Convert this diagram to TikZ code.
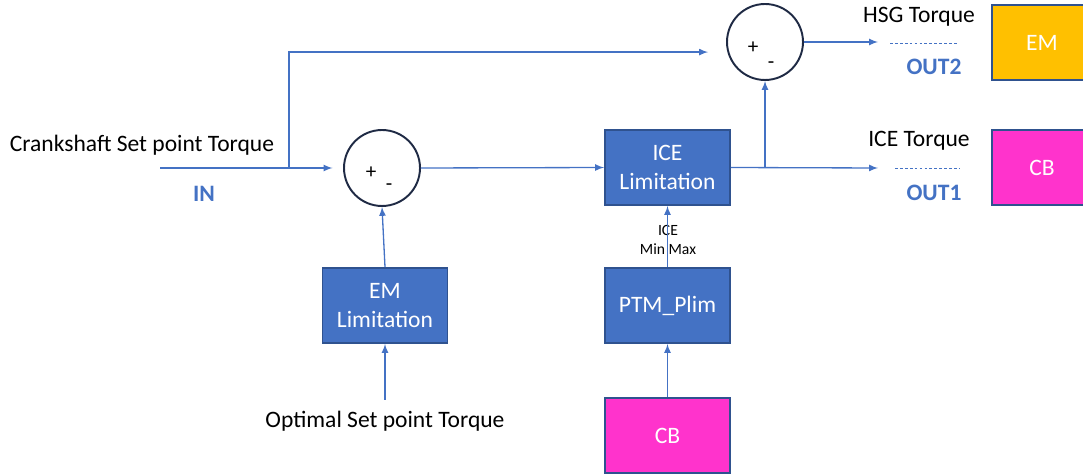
\documentclass[tikz,border=0pt]{standalone}
\usepackage{fontspec}
\setmainfont{Carlito}
\usetikzlibrary{arrows,calc,positioning}
\definecolor{lineblue}{HTML}{4472C4}
\definecolor{boxedge}{HTML}{2F528F}
\definecolor{cbpink}{HTML}{FF33CC}
\definecolor{emorange}{HTML}{FFC000}
\definecolor{ringdark}{HTML}{1F2A44}
\tikzset{
        block/.style = {draw=boxedge, fill=lineblue, rectangle,
            line width=1.1pt, text=white, align=center,
            minimum height=1.5cm,
            minimum width=2.5cm},
        sum/.style = {draw=ringdark, circle, line width=1.1pt, minimum size=1.52cm},
        arrow/.style = {draw=lineblue, -latex, line width=0.75pt},
        sign/.style = {font=\fontsize{12}{14}\selectfont},
        outlabel/.style = {text=lineblue, font=\fontsize{13.4}{16}\selectfont\bfseries},
        lbl/.style = {font=\fontsize{13.4}{16}\selectfont},
        dashline/.style = {lineblue, dash pattern=on 1.6pt off 1.2pt, line width=0.5pt},
    }

\begin{document}
\begin{tikzpicture}[x=0.02cm, y=-0.02cm, font=\fontsize{13.4}{16}\selectfont]
    \clip (0,0) rectangle (1083,476);
    \node[sum] (sum1) at (382,168) {};
    \node[sum] (sum2) at (765,42) {};
    \node[sign] (p1) at (371,173) {+};
    \node[sign] (m1) at (389,187) {-};
    \node[sign] (p2) at (753,48) {+};
    \node[sign] (m2) at (771,65) {-};

    \node[block] (ice) at (667.5,167.5) {ICE\\Limitation};
    \node[block] (emlim) at (385,305.5) {EM\\Limitation};
    \node[block] (ptm) at (667.5,305.5) {PTM\_Plim};
    \node[block, fill=cbpink] (cbin) at (667.5,435.5) {CB};
    \node[block, fill=emorange, minimum width=2cm] (em) at (1042,42.5) {EM};
    \node[block, fill=cbpink, minimum width=2cm] (cbout) at (1042,167.5) {CB};

    \node[lbl] (crank) at (142,145) {Crankshaft Set point Torque};
    \node[outlabel] (in) at (204,194) {IN};
    \node[lbl] (opt) at (385,421) {Optimal Set point Torque};
    \node[lbl] (hsg) at (919,17) {HSG Torque};
    \node[outlabel] (out2) at (934,67) {OUT2};
    \node[lbl] (icet) at (919,141) {ICE Torque};
    \node[outlabel] (out1) at (934,193) {OUT1};
    \node[align=center, font=\fontsize{8.9}{11}\selectfont] (minmax) at (668,240) {ICE\\Min Max};

    \coordinate (inl) at (160,168);
    \coordinate (split) at (289,168);
    \coordinate (branch) at (765,168);
    \coordinate (end2) at (878,42);
    \coordinate (end1) at (878,168);
    \coordinate (optl) at (385,400);

    \draw[arrow, shorten >=6] (inl) -- (sum1.west);
    \draw[arrow, shorten >=11] (split) |- (sum2.195);
    \draw[arrow] (sum1.east) -- (ice.west);
    \draw[arrow] (ice.east) -- (end1);
    \draw[arrow] (branch) -- (sum2.south);
    \draw[arrow] (sum2.east) -- (end2);
    \draw[arrow] (emlim.north) -- (sum1.south);
    \draw[arrow] (optl) -- (emlim.south);
    \draw[arrow] (ptm.north) -- (ice.south);
    \draw[arrow] (cbin.north) -- (ptm.south);

    \draw[dashline] (890,43) coordinate (d2a) -- (957,43) coordinate (d2b);
    \draw[dashline] (895,168) coordinate (d1a) -- (960,168) coordinate (d1b);
\end{tikzpicture}
\end{document}
